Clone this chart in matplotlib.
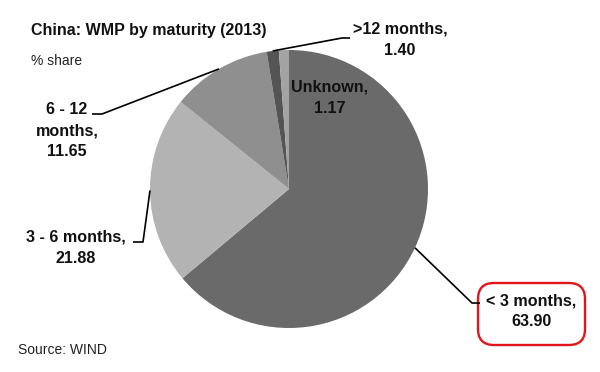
import numpy as np
import matplotlib
matplotlib.use("Agg")
import matplotlib.pyplot as plt
from matplotlib.patches import FancyBboxPatch

plt.rcParams['font.family'] = ['Liberation Sans', 'DejaVu Sans']

# ---- data ----
categories = ["< 3 months", "3 - 6 months", "6 - 12 months", ">12 months", "Unknown"]
shares = [63.90, 21.88, 11.65, 1.40, 1.17]
colors = ["#6a6a6a", "#b3b3b3", "#8f8f8f", "#545454", "#a3a3a3"]
label_texts = ["< 3 months,\n63.90", "3 - 6 months,\n21.88", "6 - 12\nmonths,\n11.65",
               ">12 months,\n1.40", "Unknown,\n1.17"]
title = "China: WMP by maturity (2013)"
subtitle = "% share"
source = "Source: WIND"

W, H = 600, 372
fig = plt.figure(figsize=(W / 100, H / 100), dpi=100)
ax = fig.add_axes([0, 0, 1, 1])

def Y(y):
    return H - y

cx, cy, r = 289, 189, 139
wedges, _ = ax.pie(shares, colors=colors, startangle=90, counterclock=False,
                   center=(cx, Y(cy)), radius=r, frame=True,
                   wedgeprops=dict(linewidth=0))
ax.set_xlim(0, W)
ax.set_ylim(0, H)
ax.set_aspect('equal')
ax.axis('off')

cum = np.cumsum([0] + shares[:-1])
mid = [90 - (c + s / 2) * 3.6 for c, s in zip(cum, shares)]

def edge(i):
    a = np.deg2rad(mid[i])
    return cx + r * np.cos(a), cy - r * np.sin(a)

label_pos = {
    0: ((531, 311), (472, 303), (480, 303)),
    1: ((76, 248), (143, 242), (133, 242)),
    2: ((67, 131), (102, 114), (92, 114)),
    3: ((400, 40), (342, 38), (350, 38)),
}

lab_kw = dict(fontsize=11.6, fontweight='bold', color='#111111', linespacing=1.5)

lw = 1.2
for i, (tpos, elbow, end) in label_pos.items():
    ex, ey = edge(i)
    ax.plot([ex, elbow[0], end[0]], [Y(ey), Y(elbow[1]), Y(end[1])],
            color="black", lw=lw, solid_capstyle='butt')
    ax.text(tpos[0], Y(tpos[1]), label_texts[i], ha='center', va='center', **lab_kw)

ax.text(330, Y(98), label_texts[4], ha='center', va='center', **lab_kw)

box = FancyBboxPatch((478, Y(345)), 107, 62,
                     boxstyle="round,pad=0,rounding_size=16",
                     fill=False, edgecolor="#e3151c", linewidth=1.7)
ax.add_patch(box)

ax.text(31, Y(31), title, ha='left', va='center', fontsize=11.5,
        fontweight='bold', color='#111111')
ax.text(31, Y(61), subtitle, ha='left', va='center', fontsize=10, color='#222222')
ax.text(18, Y(350), source, ha='left', va='center', fontsize=10, color='#222222')

fig.savefig("out.png", dpi=100)
